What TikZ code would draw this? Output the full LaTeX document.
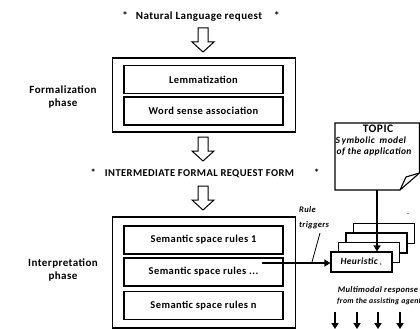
\documentclass[tikz,border=0pt]{standalone}
\usepackage{fontspec}
\setmainfont{Carlito}[LetterSpace=4.0]
\usetikzlibrary{arrows.meta}
\begin{document}
\begin{tikzpicture}[x=1pt,y=-1pt,
  txt/.style={font=\bfseries\fontsize{11}{12}\selectfont, inner sep=0pt},
  lab/.style={font=\bfseries\fontsize{11}{13.5}\selectfont, align=center, inner sep=0pt},
  ital/.style={font=\bfseries\itshape\fontsize{8.5}{10}\selectfont, inner sep=0pt},
  outerbox/.style={draw, line width=1.6pt, minimum width=183pt, inner sep=0pt},
  innerbox/.style={draw, line width=1.2pt, minimum width=159pt, minimum height=28pt, inner sep=0pt, font=\bfseries\fontsize{10.5}{12}\selectfont},
  heurbox/.style={draw, fill=white, line width=1.2pt, minimum width=61pt, minimum height=20pt, inner sep=0pt},
  thick arrow/.style={line width=2pt, -{Triangle[length=6pt,width=7pt]}},
  hollow/.pic={\draw[line width=1pt, fill=white] (-5,0) -- (5,0) -- (5,14) -- (11,14) -- (0,24) -- (-11,14) -- (-5,14) -- cycle;}
]
\useasboundingbox (0,0) rectangle (420,329);

% top text
\node[txt] (nl) at (201,16) {*\hspace{8pt}Natural Language request\hspace{12pt}*};
\pic at (203,28) {hollow};

% formalization
\node[outerbox, minimum height=74pt] (form) at (204,95) {};
\node[innerbox] (lem) at (203.5,79.5) {Lemmatization};
\node[innerbox] (wsa) at (203.5,111) {Word sense association};
\node[lab] (fl) at (63,97) {Formalization\\phase};

\pic at (203,137) {hollow};
\node[txt, font=\bfseries\fontsize{10.5}{12}\selectfont] (imf) at (205,173) {*\hspace{9pt}INTERMEDIATE FORMAL REQUEST FORM\hspace{20pt}*};
\pic at (203,186) {hollow};

% interpretation
\node[outerbox, minimum height=111pt] (interp) at (204,272.5) {};
\node[innerbox] (s1) at (203.5,240) {Semantic space rules 1};
\node[innerbox] (s2) at (203.5,272) {Semantic space rules ...};
\node[innerbox] (s3) at (203.5,305.5) {Semantic space rules n};
\node[lab] (il) at (63,270) {Interpretation\\phase};

% topic page
\draw[line width=1.1pt, fill=white] (335,123) -- (419.5,123) -- (419.5,173) -- (400,190) -- (335,190) -- cycle;
\draw[line width=1.1pt] (419.5,173) -- (406,177) -- (400,190);
\node[font=\bfseries\fontsize{11.5}{12}\selectfont, inner sep=0pt] (topic) at (378,128.5) {TOPIC};
\node[ital, anchor=base west, font=\bfseries\itshape\fontsize{9.5}{12}\selectfont] (sym1) at (335.5,143) {S\,ymbolic\ \ model};
\node[ital, anchor=base west, font=\bfseries\itshape\fontsize{9.5}{12}\selectfont] (sym2) at (336.5,154.5) {of the application};
\coordinate (topbot) at (377,190);

% heuristic stack
\node[heurbox] (h4) at (384,233.5) {};
\node[heurbox] (h3) at (376.5,243) {};
\node[heurbox] (h2) at (369,252.5) {};
\node[heurbox, font=\bfseries\itshape\fontsize{9.5}{10}\selectfont] (heur) at (361.5,262) {Heuristic\,$_{\scriptscriptstyle i}$};
\node[inner sep=0pt, font=\fontsize{6}{6}\selectfont] (dots) at (408,215) {--};

\draw[thick arrow] (topbot) -- (heur.north -| topbot);

% rule triggers
\coordinate (s2start) at (262,263);
\draw[thick arrow] (s2start) -- (s2start -| heur.west);
\node[ital, align=left, anchor=west, font=\bfseries\itshape\fontsize{8.5}{15}\selectfont] (rt) at (299,217.5) {Rule\\triggers};
\coordinate (rtl) at (320,233);
\coordinate (rtm) at (312,262);
\draw[line width=0.8pt] (rtl) -- (rtm);

% multimodal response
\node[ital] (mm1) at (378,290) {Multimodal response};
\node[ital, anchor=west, font=\bfseries\itshape\fontsize{7.8}{10}\selectfont] (mm2) at (337,301) {from the assisting agent};
\foreach \x/\n in {335/a,357/b,378/c,400/d}{
  \coordinate (d\n) at (\x,312);
  \coordinate (e\n) at (\x,329);
  \draw[thick arrow, line width=2.2pt] (d\n) -- (e\n);
}
\end{tikzpicture}
\end{document}
